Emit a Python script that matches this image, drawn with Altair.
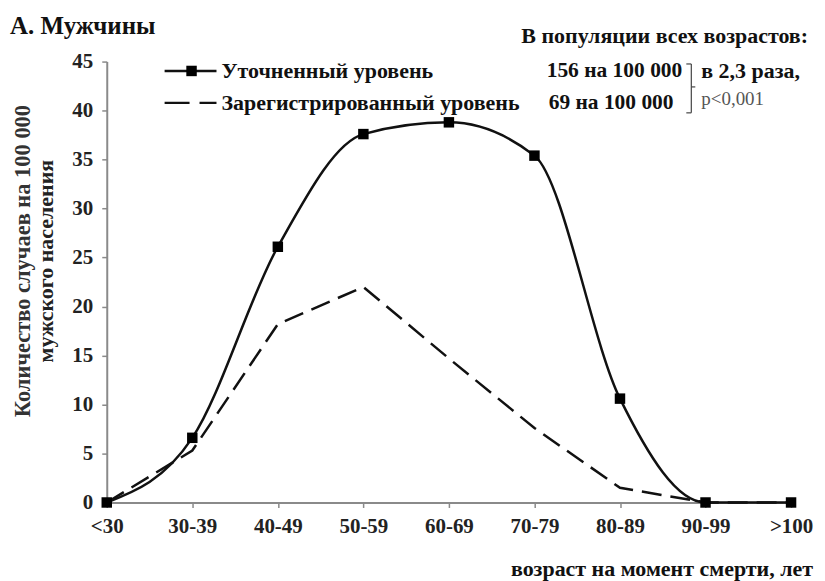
import altair as alt
import pandas as pd

categories = ["<30", "30-39", "40-49", "50-59", "60-69", "70-79", "80-89", "90-99", ">100"]
refined = [0, 6.6, 26.1, 37.6, 38.8, 35.4, 10.6, 0, 0]
registered = [0, 5.3, 18.2, 22.0, 14.7, 7.6, 1.5, 0, 0]
series_names = ["Уточненный уровень", "Зарегистрированный уровень"]
y_ticks = [0, 5, 10, 15, 20, 25, 30, 35, 40, 45]

rows = []
for c, a, b in zip(categories, refined, registered):
    rows.append({"age": c, "value": a, "series": series_names[0]})
    rows.append({"age": c, "value": b, "series": series_names[1]})
df = pd.DataFrame(rows)

SERIF = "Liberation Serif"
W, H = 686, 442

x_enc = alt.X("age:N", sort=categories,
              scale=alt.Scale(type="point", padding=0),
              axis=alt.Axis(title=None, labelAngle=0, labelFont=SERIF, labelFontSize=21,
                            labelFontWeight="bold", labelColor="#222", labelPadding=8,
                            domainColor="#8a8a8a", domainWidth=2, tickColor="#8a8a8a",
                            tickWidth=1.5, tickSize=5))
y_enc = alt.Y("value:Q", scale=alt.Scale(domain=[0, 45], nice=False, zero=True),
              axis=alt.Axis(title=None, values=y_ticks, grid=False, labelFont=SERIF,
                            labelFontSize=21, labelFontWeight="bold", labelColor="#222",
                            labelPadding=9, domainColor="#8a8a8a", domainWidth=2,
                            tickColor="#8a8a8a", tickWidth=1.5, tickSize=5))

base = alt.Chart(df)
solid = base.transform_filter(alt.datum.series == series_names[0])
dashed = base.transform_filter(alt.datum.series == series_names[1])

dashed_line = dashed.mark_line(color="#111", strokeWidth=2.5, strokeDash=[20, 9],
                               interpolate="linear").encode(x=x_enc, y=y_enc)
solid_line = solid.mark_line(color="#111", strokeWidth=2.5,
                             interpolate="monotone").encode(x=x_enc, y=y_enc)
solid_pts = solid.mark_square(color="#000", size=110, opacity=1).encode(x=x_enc, y=y_enc)

one = alt.Data(values=[{"k": 1}])


def label(txt, x, y, size, weight="bold", align="left", color="#111", angle=0):
    return alt.Chart(one).mark_text(text=txt, font=SERIF, fontSize=size, fontWeight=weight,
                                    align=align, baseline="middle", color=color,
                                    angle=angle).encode(x=alt.value(x), y=alt.value(y))


def seg(x1, x2, y1, y2, dash=None, width=2.5, color="#111"):
    kw = dict(color=color, strokeWidth=width)
    if dash:
        kw["strokeDash"] = dash
    return alt.Chart(one).mark_rule(**kw).encode(x=alt.value(x1), x2=alt.value(x2),
                                                 y=alt.value(y1), y2=alt.value(y2))


layers = [
    dashed_line, solid_line, solid_pts,
    label("А. Мужчины", -97, -36, 25),
    label("Количество случаев на 100 000", -84, 200, 22.5,
          align="center", angle=270, color="#333"),
    label("мужского населения", -61, 200, 22, align="center", angle=270, color="#222"),
    label("возраст на момент смерти, лет", 708, 509, 22, align="right"),
    # legend
    seg(58, 110, 9.4, 9.4),
    alt.Chart(one).mark_square(color="#000", size=110, opacity=1).encode(
        x=alt.value(85), y=alt.value(9.4)),
    label(series_names[0], 115, 9.4, 22),
    seg(58, 110, 41.4, 41.4, dash=[25, 10]),
    label(series_names[1], 115, 41.4, 22),
    # annotation
    label("В популяции всех возрастов:", 703, -25.6, 22, align="right"),
    label("156 на 100 000", 441, 9.4, 21.5),
    label("69 на 100 000", 443, 41.4, 21.5),
    seg(586, 586, 2.4, 51.4, width=1.2, color="#444"),
    seg(581, 586, 2.4, 2.4, width=1.2, color="#444"),
    seg(581, 586, 51.4, 51.4, width=1.2, color="#444"),
    seg(586, 590, 25.4, 25.4, width=1.2, color="#444"),
    label("в 2,3 раза,", 596, 9.4, 22),
    label("p<0,001", 596, 37.4, 19, weight="normal", color="#555"),
]

chart = alt.layer(*layers).properties(
    width=W, height=H,
    autosize="none",
    padding={"left": 99, "top": 53, "right": 26, "bottom": 78},
).configure_view(stroke=None)

chart.save("out.html", embed_options={"renderer": "svg", "actions": False})
